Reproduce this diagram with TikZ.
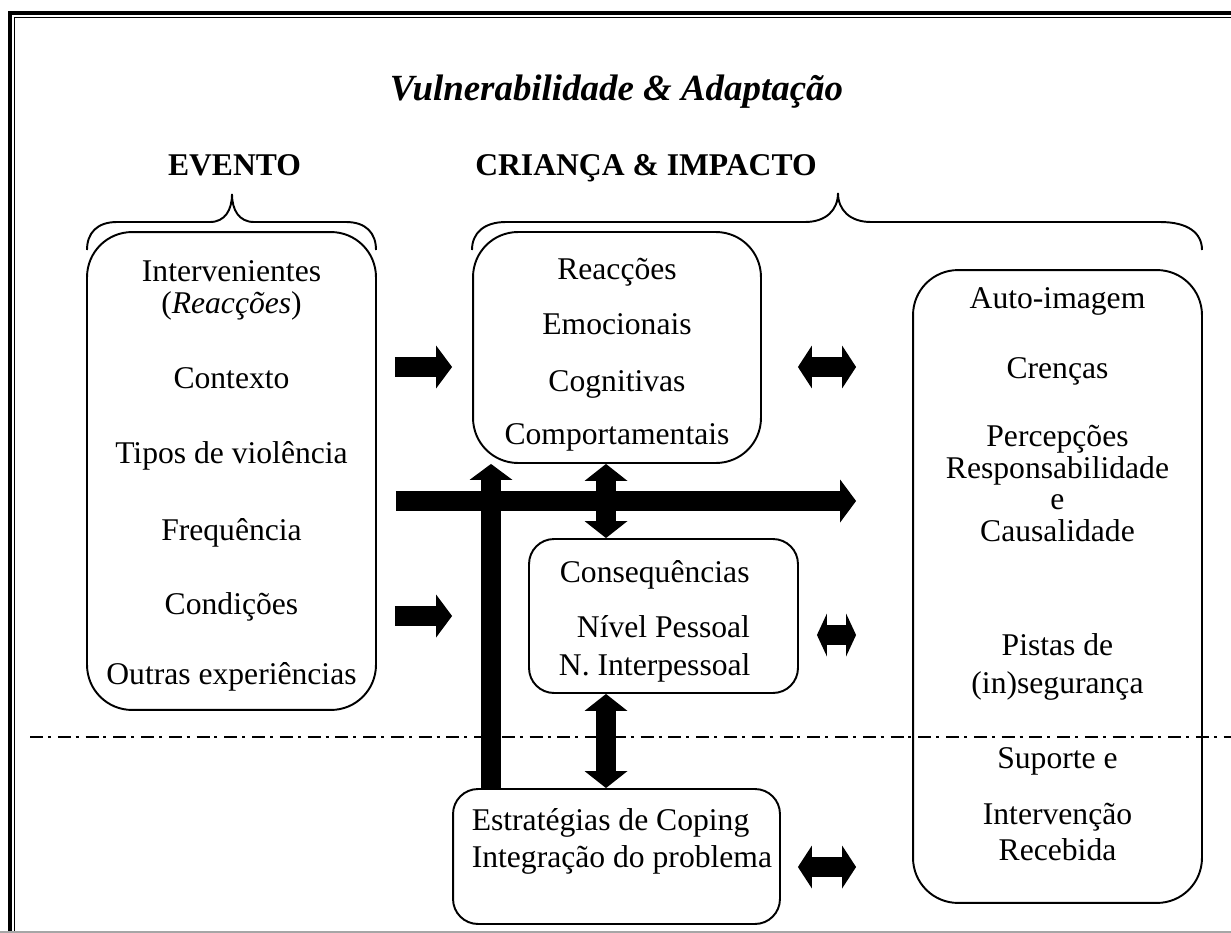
\documentclass[tikz,border=0pt]{standalone}
\usepackage{fontspec}
\setmainfont{Liberation Serif}
\usepackage{tikz}
\usetikzlibrary{arrows.meta}

\begin{document}
\begin{tikzpicture}[x=0.02cm,y=-0.02cm,line width=1.1pt,
                    main node/.style={draw,rounded corners=0.9cm,align=center,inner sep=0pt,font=\fontsize{18}{18}\selectfont},
                    small node/.style={main node,rounded corners=0.5cm},
                    head node/.style={anchor=base,font=\fontsize{18}{18}\selectfont\bfseries},
                    fat arrow/.style={line width=0.41cm,-{Triangle[width=0.86cm,length=0.32cm,line width=0pt]}},
                    fat double/.style={line width=0.41cm,{Triangle[width=0.86cm,length=#1,line width=0pt]}-{Triangle[width=0.86cm,length=#1,line width=0pt]}},
                    fat double/.default=0.34cm,
                    curly/.style={line width=1.1pt}]

 \useasboundingbox (0,0) rectangle (1231,933);

 % frame
 \draw[line width=0.072cm] (10,933) -- (10,13) -- (1231,13);
 \draw[line width=0.032cm] (14.3,933) -- (14.3,17.5) -- (1231,17.5);
 \draw[black!35,line width=0.03cm] (0,932) -- (1231,932);

 \node[anchor=base,font=\fontsize{21}{21}\selectfont\bfseries\itshape] (title) at (616.5,100) {Vulnerabilidade \& Adaptação};

 \node[head node] (evento) at (234.5,175) {EVENTO};
 \node[head node] (crianca) at (646,175) {CRIANÇA \& IMPACTO};

 \node[main node,minimum width=5.78cm,minimum height=9.56cm] (ev) at (231.5,471)
   {\rule{0pt}{17.6pt}Intervenientes\\(\textit{Reacções})\\[25.1pt]Contexto\\[24.5pt]Tipos de violência\\[25.6pt]Frequência\\[24.5pt]Condições\\[21.7pt]Outras experiências};

 \node[main node,minimum width=5.76cm,minimum height=4.62cm] (reac) at (617,347.5)
   {\rule{0pt}{20.6pt}Reacções\\[13.2pt]Emocionais\\[14.3pt]Cognitivas\\[12.6pt]Comportamentais};

 \node[small node,minimum width=5.38cm,minimum height=3.08cm] (cons) at (663.5,616)
   {\rule{0pt}{18.4pt}Consequências\hspace*{10pt}\\[13.2pt]Nível Pessoal\hspace*{10pt}\\[3.5pt]N. Interpessoal\hspace*{10pt}};

 \node[small node,align=left,minimum width=6.54cm,minimum height=2.7cm] (estr) at (616.5,856.5)
   {\hspace*{6.2pt}Estratégias de Coping\\[3pt]\hspace*{6.2pt}Integração do problema\rule[-21pt]{0pt}{21pt}};

 \node[main node,minimum width=5.78cm,minimum height=12.66cm] (self) at (1057.5,586.5)
   {Auto-imagem\\[21.7pt]Crenças\\[21pt]Percepções\\Responsabilidade\\e\\Causalidade\\[47pt]Pistas de\\[3.5pt](in)segurança\\[24.5pt]Suporte e\\[14.3pt]Intervenção\\[2.4pt]Recebida\rule[-14.2pt]{0pt}{14.2pt}};

 % braces
 \draw[curly] (87,250) .. controls (87,233) and (97,222) .. (117,222) -- (210,222)
   .. controls (225,222) and (232,210) .. (232,194) .. controls (232,210) and (239,222) .. (254,222)
   -- (346,222) .. controls (366,222) and (376,233) .. (376,250);
 \draw[curly] (472,250) .. controls (472,233) and (484,222) .. (506,222) -- (805,222)
   .. controls (826,222) and (838,210) .. (838,193) .. controls (838,210) and (850,222) .. (871,222)
   -- (1160,222) .. controls (1188,222) and (1202,233) .. (1202,250);

 \draw[line width=1.1pt,dash pattern=on 7.4pt off 2.8pt on 1.7pt off 3.9pt] (30,737) -- (1231,737);

 \coordinate (row1) at (0,367);
 \coordinate (row2) at (0,501);
 \coordinate (row3) at (0,616);
 \coordinate (row4) at (0,635);
 \coordinate (row5) at (0,867);
 \coordinate (col1) at (491,0);
 \coordinate (col2) at (606,0);

 \draw[fat arrow,shorten <=0.36cm,shorten >=0.4cm] (ev.east |- row1) -- (reac.west |- row1);
 \draw[fat arrow,shorten <=0.38cm,shorten >=1.12cm] (ev.east |- row2) -- (self.west |- row2);
 \draw[fat arrow,shorten <=0.36cm,shorten >=1.52cm] (ev.east |- row3) -- (cons.west |- row3);
 \draw[fat arrow] (col1 |- estr.north) -- (col1 |- reac.south);
 \draw[fat double] (col2 |- reac.south) -- (col2 |- cons.north);
 \draw[fat double] (col2 |- cons.south) -- (col2 |- estr.north);
 \draw[fat double=0.28cm,shorten <=0.72cm,shorten >=1.12cm] (reac.east |- row1) -- (self.west |- row1);
 \draw[fat double=0.2cm,shorten <=0.36cm,shorten >=1.12cm] (cons.east |- row4) -- (self.west |- row4);
 \draw[fat double=0.28cm,shorten <=0.34cm,shorten >=1.12cm] (estr.east |- row5) -- (self.west |- row5);

\end{tikzpicture}
\end{document}
